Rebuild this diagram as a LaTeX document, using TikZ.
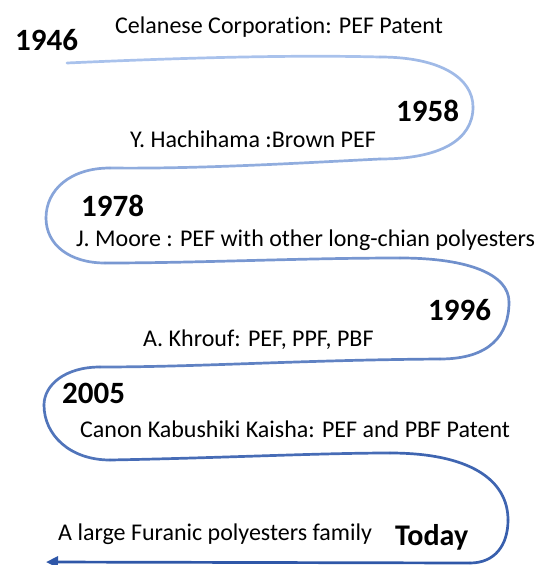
\documentclass[tikz,border=0pt]{standalone}
\usepackage{fontspec}
\setmainfont{Carlito}[Ligatures={NoCommon}]
\usetikzlibrary{arrows.meta}
\definecolor{cA}{HTML}{A9C2EC}
\definecolor{cB}{HTML}{2F57A8}
\tikzset{
  lbl/.style={anchor=base west, inner sep=0pt, font=\fontsize{24}{28}\selectfont},
  yr/.style={anchor=base west, inner sep=0pt, font=\fontsize{31}{36}\selectfont\bfseries},
  seg/.style={line width=2.7pt, line cap=round},
}
\begin{document}
\begin{tikzpicture}[x=1pt,y=-1pt]
\useasboundingbox (0,0) rectangle (539,565);
% path coordinates
\coordinate (A0) at (67,63);
\coordinate (A1) at (380,57);
\coordinate (A2) at (473,107);
\coordinate (A3) at (380,159);
\coordinate (A4) at (110,168);
\coordinate (A5) at (46,218);
\coordinate (A6) at (105,263);
\coordinate (A7) at (400,258);
\coordinate (A8) at (509,302);
\coordinate (A9) at (440,359);
\coordinate (A10) at (100,367);
\coordinate (A11) at (44,405);
\coordinate (A12) at (110,460);
\coordinate (A13) at (390,453);
\coordinate (A14) at (508,520);
\coordinate (A15) at (470,563);
\coordinate (A16) at (46,562);
\draw[seg, cB!0!cA]   (A0) .. controls (200,57) and (300,55) .. (A1);
\draw[seg, cB!7!cA]   (A1) .. controls (440,57) and (473,78) .. (A2);
\draw[seg, cB!13!cA]  (A2) .. controls (473,140) and (440,159) .. (A3);
\draw[seg, cB!20!cA]  (A3) .. controls (300,163) and (200,169) .. (A4);
\draw[seg, cB!27!cA]  (A4) .. controls (70,168) and (46,190) .. (A5);
\draw[seg, cB!33!cA]  (A5) .. controls (46,245) and (70,263) .. (A6);
\draw[seg, cB!40!cA]  (A6) .. controls (200,263) and (300,258) .. (A7);
\draw[seg, cB!47!cA]  (A7) .. controls (470,258) and (509,275) .. (A8);
\draw[seg, cB!53!cA]  (A8) .. controls (509,335) and (490,359) .. (A9);
\draw[seg, cB!60!cA]  (A9) .. controls (300,360) and (200,367) .. (A10);
\draw[seg, cB!67!cA]  (A10) .. controls (65,367) and (44,385) .. (A11);
\draw[seg, cB!73!cA]  (A11) .. controls (44,435) and (70,460) .. (A12);
\draw[seg, cB!80!cA]  (A12) .. controls (220,458) and (320,453) .. (A13);
\draw[seg, cB!87!cA]  (A13) .. controls (470,453) and (508,480) .. (A14);
\draw[seg, cB!93!cA]  (A14) .. controls (508,545) and (495,563) .. (A15);
\draw[seg, cB, -{Triangle[length=12pt,width=11pt]}] (A15) -- (A16);
% labels
\node[yr]  (y1946) at (15,50)  {1946};
\node[lbl] (t1946) at (115,33) {Celanese Corporation: PEF Patent};
\node[yr]  (y1958) at (396,121) {1958};
\node[lbl] (t1958) at (130,147) {Y. Hachihama :Brown PEF};
\node[yr]  (y1978) at (81,216) {1978};
\node[lbl] (t1978) at (76,246) {J. Moore : PEF with other long-chian polyesters};
\node[yr]  (y1996) at (428,320) {1996};
\node[lbl] (t1996) at (143,346) {A. Khrouf: PEF, PPF, PBF};
\node[yr]  (y2005) at (62,403) {2005};
\node[lbl] (t2005) at (80,437) {Canon Kabushiki Kaisha: PEF and PBF Patent};
\node[lbl] (tnow)  at (58,540) {A large Furanic polyesters family};
\node[yr, font=\fontsize{30}{34}\selectfont\bfseries] (ynow) at (395,545) {Today};
\end{tikzpicture}
\end{document}
